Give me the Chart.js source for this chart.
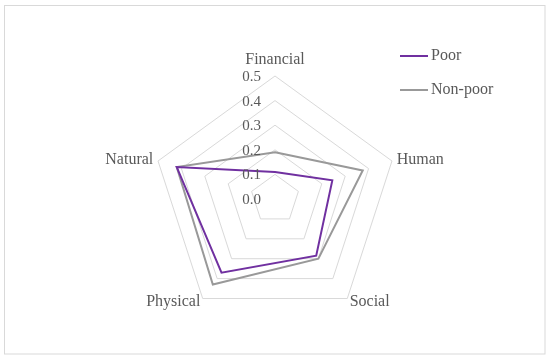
<!DOCTYPE html>
<html lang="en">
<head>
    <meta charset="UTF-8">
    <title>Capital radar</title>
    <script src="https://cdn.jsdelivr.net/npm/chart.js"></script>
    <style>
        html, body { margin: 0; padding: 0; background: #FFFFFF; }
        #wrap { width: 550px; height: 359px; position: relative; }
    </style>
</head>
<body>
<div id="wrap"><canvas id="myChart" width="550" height="359"></canvas></div>
<script>
    // values
    var categories = ['Financial', 'Human', 'Social', 'Physical', 'Natural'];
    var poor = [0.11, 0.245, 0.285, 0.37, 0.42];
    var non_poor = [0.19, 0.375, 0.30, 0.43, 0.42];
    var tick_labels = ['0.0', '0.1', '0.2', '0.3', '0.4', '0.5'];

    var text_color = '#595959';
    var serif = "'Liberation Serif', 'DejaVu Serif', serif";

    // background + outer frame
    var framePlugin = {
        id: 'frame',
        beforeDraw: function(chart) {
            var ctx = chart.ctx;
            ctx.save();
            ctx.fillStyle = '#FFFFFF';
            ctx.fillRect(0, 0, chart.width, chart.height);
            ctx.strokeStyle = '#D9D9D9';
            ctx.lineWidth = 1;
            ctx.strokeRect(4.5, 5.5, 540.5, 348.5);
            ctx.restore();
        }
    };

    // tick labels right of nothing, left of the axis; point labels and legend like the Excel look
    var labelPlugin = {
        id: 'labels',
        afterDraw: function(chart) {
            var ctx = chart.ctx;
            var scale = chart.scales.r;
            ctx.save();
            ctx.fillStyle = text_color;

            // tick labels
            ctx.font = '15px ' + serif;
            ctx.textAlign = 'right';
            ctx.textBaseline = 'middle';
            for (var i = 0; i < tick_labels.length; i++) {
                var v = parseFloat(tick_labels[i]);
                var d = scale.getDistanceFromCenterForValue(v);
                ctx.fillText(tick_labels[i], scale.xCenter - 14, scale.yCenter - d + 1);
            }

            // point labels
            ctx.font = '16px ' + serif;
            var aligns = ['center', 'left', 'left', 'right', 'right'];
            var offsets = [16, 5, 4, 4, 5];
            for (var j = 0; j < categories.length; j++) {
                var p = scale.getPointPosition(j, scale.drawingArea + offsets[j]);
                ctx.textAlign = aligns[j];
                ctx.fillText(categories[j], p.x, p.y);
            }

            // legend
            var ds = chart.data.datasets;
            ctx.textAlign = 'left';
            for (var k = 0; k < ds.length; k++) {
                var y = 56 + k * 34;
                ctx.strokeStyle = ds[k].borderColor;
                ctx.lineWidth = ds[k].borderWidth;
                ctx.beginPath();
                ctx.moveTo(400, y);
                ctx.lineTo(428, y);
                ctx.stroke();
                ctx.fillText(ds[k].label, 431, y);
            }
            ctx.restore();
        }
    };

    var ctx = document.getElementById('myChart');
    var chart = new Chart(ctx, {
        type: 'radar',
        data: {
            labels: categories,
            datasets: [
                {label: 'Poor', data: poor, fill: false, borderColor: '#7030A0', borderWidth: 2, pointRadius: 0},
                {label: 'Non-poor', data: non_poor, fill: false, borderColor: '#999999', borderWidth: 2, pointRadius: 0}
            ]
        },
        options: {
            responsive: false,
            animation: false,
            layout: {padding: {top: 76, bottom: 37, left: 0, right: 0}},
            elements: {line: {tension: 0}},
            scales: {
                r: {
                    min: 0,
                    max: 0.5,
                    ticks: {stepSize: 0.1, display: false},
                    grid: {color: '#D9D9D9', lineWidth: 1},
                    angleLines: {display: false},
                    pointLabels: {display: false}
                }
            },
            plugins: {
                legend: {display: false},
                tooltip: {enabled: false}
            }
        },
        plugins: [framePlugin, labelPlugin]
    });
</script>
</body>
</html>
